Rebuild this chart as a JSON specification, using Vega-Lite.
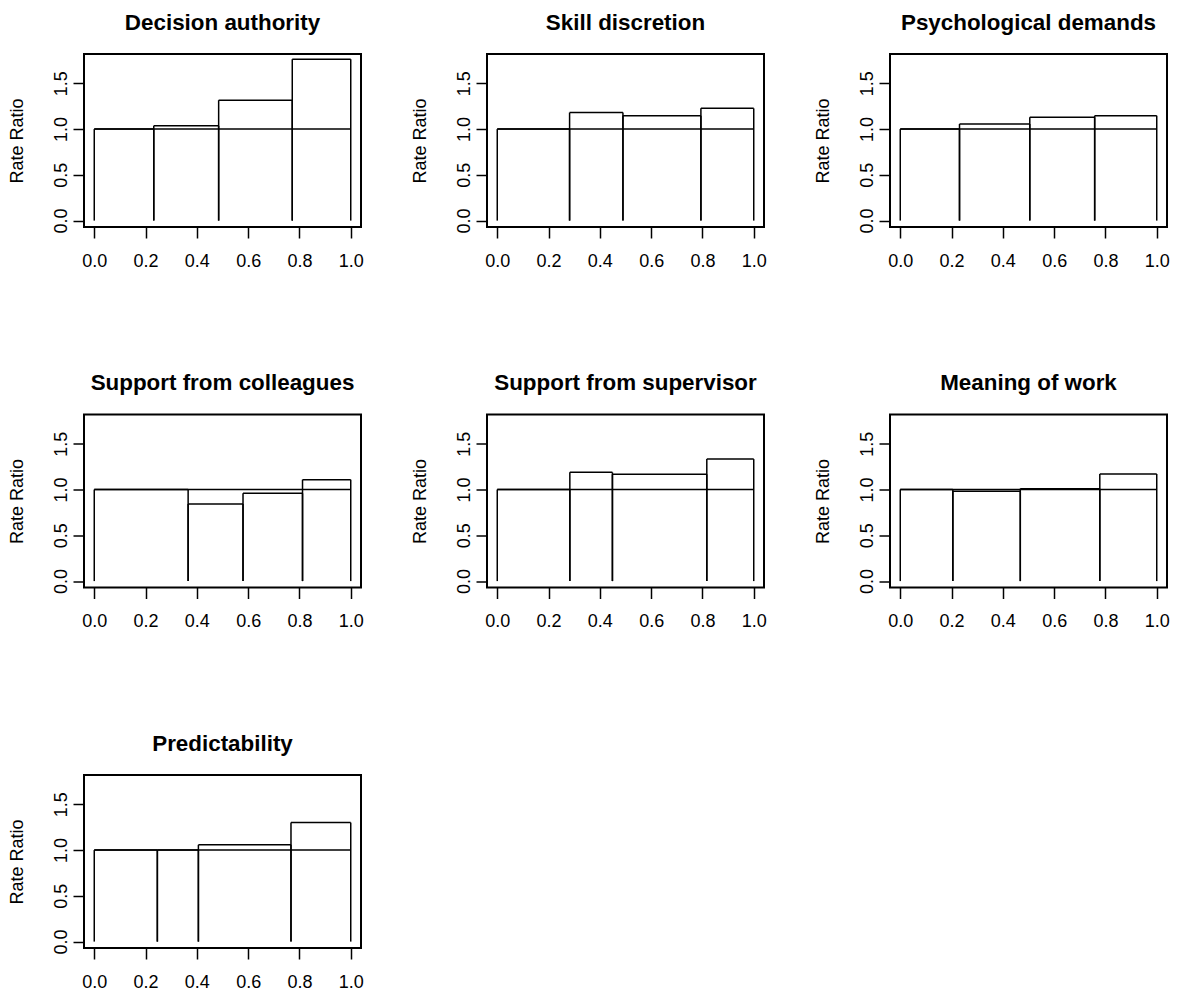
{
  "$schema": "https://vega.github.io/schema/vega-lite/v6.json",
  "padding": {"left": 7, "top": 10, "right": 0, "bottom": 0},
  "background": "white",
  "datasets": {
    "bars": [
      {"panel": "Decision authority", "x0": 0, "x1": 0.232, "rr": 1.0},
      {"panel": "Decision authority", "x0": 0.232, "x1": 0.485, "rr": 1.035},
      {"panel": "Decision authority", "x0": 0.485, "x1": 0.772, "rr": 1.315},
      {"panel": "Decision authority", "x0": 0.772, "x1": 1, "rr": 1.763},
      {"panel": "Skill discretion", "x0": 0, "x1": 0.282, "rr": 1.0},
      {"panel": "Skill discretion", "x0": 0.282, "x1": 0.49, "rr": 1.18},
      {"panel": "Skill discretion", "x0": 0.49, "x1": 0.794, "rr": 1.146},
      {"panel": "Skill discretion", "x0": 0.794, "x1": 1, "rr": 1.226},
      {"panel": "Psychological demands", "x0": 0, "x1": 0.231, "rr": 1.0},
      {"panel": "Psychological demands", "x0": 0.231, "x1": 0.505, "rr": 1.055},
      {"panel": "Psychological demands", "x0": 0.505, "x1": 0.758, "rr": 1.128},
      {"panel": "Psychological demands", "x0": 0.758, "x1": 1, "rr": 1.146},
      {"panel": "Support from colleagues", "x0": 0, "x1": 0.366, "rr": 1.0},
      {"panel": "Support from colleagues", "x0": 0.366, "x1": 0.58, "rr": 0.843},
      {"panel": "Support from colleagues", "x0": 0.58, "x1": 0.812, "rr": 0.959},
      {"panel": "Support from colleagues", "x0": 0.812, "x1": 1, "rr": 1.108},
      {"panel": "Support from supervisor", "x0": 0, "x1": 0.283, "rr": 1.0},
      {"panel": "Support from supervisor", "x0": 0.283, "x1": 0.449, "rr": 1.188},
      {"panel": "Support from supervisor", "x0": 0.449, "x1": 0.817, "rr": 1.166},
      {"panel": "Support from supervisor", "x0": 0.817, "x1": 1, "rr": 1.333},
      {"panel": "Meaning of work", "x0": 0, "x1": 0.205, "rr": 1.0},
      {"panel": "Meaning of work", "x0": 0.205, "x1": 0.468, "rr": 0.981},
      {"panel": "Meaning of work", "x0": 0.468, "x1": 0.778, "rr": 1.01},
      {"panel": "Meaning of work", "x0": 0.778, "x1": 1, "rr": 1.17},
      {"panel": "Predictability", "x0": 0, "x1": 0.246, "rr": 1.0},
      {"panel": "Predictability", "x0": 0.246, "x1": 0.406, "rr": 1.0},
      {"panel": "Predictability", "x0": 0.406, "x1": 0.767, "rr": 1.057},
      {"panel": "Predictability", "x0": 0.767, "x1": 1, "rr": 1.3}
    ]
  },
  "data": {"name": "bars"},
  "columns": 3,
  "spacing": {"row": 187.5, "column": 126},
  "bounds": "flush",
  "concat": [
    {
      "title": "Decision authority",
      "width": 277, "height": 173,
      "transform": [{"filter": {"field": "panel", "equal": "Decision authority"}}],
      "layer": [
        {"mark": {"type": "rule", "color": "black", "strokeWidth": 1.5},
         "encoding": {
           "x": {"field": "x0", "type": "quantitative", "scale": {"domain": [-0.04, 1.04], "nice": false, "zero": false}, "axis": {"title": null, "values": [0, 0.2, 0.4, 0.6, 0.8, 1.0], "format": ".1f"}},
           "x2": {"field": "x1"},
           "y": {"field": "rr", "type": "quantitative", "scale": {"domain": [-0.07, 1.82], "nice": false, "zero": false}, "axis": {"title": "Rate Ratio", "values": [0, 0.5, 1.0, 1.5], "format": ".1f"}}}},
        {"mark": {"type": "rule", "color": "black", "strokeWidth": 1.5},
         "encoding": {"x": {"field": "x0", "type": "quantitative"}, "y": {"field": "rr", "type": "quantitative"}, "y2": {"datum": 0}}},
        {"mark": {"type": "rule", "color": "black", "strokeWidth": 1.5},
         "encoding": {"x": {"field": "x1", "type": "quantitative"}, "y": {"field": "rr", "type": "quantitative"}, "y2": {"datum": 0}}},
        {"transform": [{"filter": "datum.x0 == 0"}],
         "mark": {"type": "rule", "color": "black", "strokeWidth": 1.5},
         "encoding": {"x": {"datum": 0, "type": "quantitative"}, "x2": {"datum": 1}, "y": {"datum": 1, "type": "quantitative"}}}
      ]
    },
    {
      "title": "Skill discretion",
      "width": 277, "height": 173,
      "transform": [{"filter": {"field": "panel", "equal": "Skill discretion"}}],
      "layer": [
        {"mark": {"type": "rule", "color": "black", "strokeWidth": 1.5},
         "encoding": {
           "x": {"field": "x0", "type": "quantitative", "scale": {"domain": [-0.04, 1.04], "nice": false, "zero": false}, "axis": {"title": null, "values": [0, 0.2, 0.4, 0.6, 0.8, 1.0], "format": ".1f"}},
           "x2": {"field": "x1"},
           "y": {"field": "rr", "type": "quantitative", "scale": {"domain": [-0.07, 1.82], "nice": false, "zero": false}, "axis": {"title": "Rate Ratio", "values": [0, 0.5, 1.0, 1.5], "format": ".1f"}}}},
        {"mark": {"type": "rule", "color": "black", "strokeWidth": 1.5},
         "encoding": {"x": {"field": "x0", "type": "quantitative"}, "y": {"field": "rr", "type": "quantitative"}, "y2": {"datum": 0}}},
        {"mark": {"type": "rule", "color": "black", "strokeWidth": 1.5},
         "encoding": {"x": {"field": "x1", "type": "quantitative"}, "y": {"field": "rr", "type": "quantitative"}, "y2": {"datum": 0}}},
        {"transform": [{"filter": "datum.x0 == 0"}],
         "mark": {"type": "rule", "color": "black", "strokeWidth": 1.5},
         "encoding": {"x": {"datum": 0, "type": "quantitative"}, "x2": {"datum": 1}, "y": {"datum": 1, "type": "quantitative"}}}
      ]
    },
    {
      "title": "Psychological demands",
      "width": 277, "height": 173,
      "transform": [{"filter": {"field": "panel", "equal": "Psychological demands"}}],
      "layer": [
        {"mark": {"type": "rule", "color": "black", "strokeWidth": 1.5},
         "encoding": {
           "x": {"field": "x0", "type": "quantitative", "scale": {"domain": [-0.04, 1.04], "nice": false, "zero": false}, "axis": {"title": null, "values": [0, 0.2, 0.4, 0.6, 0.8, 1.0], "format": ".1f"}},
           "x2": {"field": "x1"},
           "y": {"field": "rr", "type": "quantitative", "scale": {"domain": [-0.07, 1.82], "nice": false, "zero": false}, "axis": {"title": "Rate Ratio", "values": [0, 0.5, 1.0, 1.5], "format": ".1f"}}}},
        {"mark": {"type": "rule", "color": "black", "strokeWidth": 1.5},
         "encoding": {"x": {"field": "x0", "type": "quantitative"}, "y": {"field": "rr", "type": "quantitative"}, "y2": {"datum": 0}}},
        {"mark": {"type": "rule", "color": "black", "strokeWidth": 1.5},
         "encoding": {"x": {"field": "x1", "type": "quantitative"}, "y": {"field": "rr", "type": "quantitative"}, "y2": {"datum": 0}}},
        {"transform": [{"filter": "datum.x0 == 0"}],
         "mark": {"type": "rule", "color": "black", "strokeWidth": 1.5},
         "encoding": {"x": {"datum": 0, "type": "quantitative"}, "x2": {"datum": 1}, "y": {"datum": 1, "type": "quantitative"}}}
      ]
    },
    {
      "title": "Support from colleagues",
      "width": 277, "height": 173,
      "transform": [{"filter": {"field": "panel", "equal": "Support from colleagues"}}],
      "layer": [
        {"mark": {"type": "rule", "color": "black", "strokeWidth": 1.5},
         "encoding": {
           "x": {"field": "x0", "type": "quantitative", "scale": {"domain": [-0.04, 1.04], "nice": false, "zero": false}, "axis": {"title": null, "values": [0, 0.2, 0.4, 0.6, 0.8, 1.0], "format": ".1f"}},
           "x2": {"field": "x1"},
           "y": {"field": "rr", "type": "quantitative", "scale": {"domain": [-0.07, 1.82], "nice": false, "zero": false}, "axis": {"title": "Rate Ratio", "values": [0, 0.5, 1.0, 1.5], "format": ".1f"}}}},
        {"mark": {"type": "rule", "color": "black", "strokeWidth": 1.5},
         "encoding": {"x": {"field": "x0", "type": "quantitative"}, "y": {"field": "rr", "type": "quantitative"}, "y2": {"datum": 0}}},
        {"mark": {"type": "rule", "color": "black", "strokeWidth": 1.5},
         "encoding": {"x": {"field": "x1", "type": "quantitative"}, "y": {"field": "rr", "type": "quantitative"}, "y2": {"datum": 0}}},
        {"transform": [{"filter": "datum.x0 == 0"}],
         "mark": {"type": "rule", "color": "black", "strokeWidth": 1.5},
         "encoding": {"x": {"datum": 0, "type": "quantitative"}, "x2": {"datum": 1}, "y": {"datum": 1, "type": "quantitative"}}}
      ]
    },
    {
      "title": "Support from supervisor",
      "width": 277, "height": 173,
      "transform": [{"filter": {"field": "panel", "equal": "Support from supervisor"}}],
      "layer": [
        {"mark": {"type": "rule", "color": "black", "strokeWidth": 1.5},
         "encoding": {
           "x": {"field": "x0", "type": "quantitative", "scale": {"domain": [-0.04, 1.04], "nice": false, "zero": false}, "axis": {"title": null, "values": [0, 0.2, 0.4, 0.6, 0.8, 1.0], "format": ".1f"}},
           "x2": {"field": "x1"},
           "y": {"field": "rr", "type": "quantitative", "scale": {"domain": [-0.07, 1.82], "nice": false, "zero": false}, "axis": {"title": "Rate Ratio", "values": [0, 0.5, 1.0, 1.5], "format": ".1f"}}}},
        {"mark": {"type": "rule", "color": "black", "strokeWidth": 1.5},
         "encoding": {"x": {"field": "x0", "type": "quantitative"}, "y": {"field": "rr", "type": "quantitative"}, "y2": {"datum": 0}}},
        {"mark": {"type": "rule", "color": "black", "strokeWidth": 1.5},
         "encoding": {"x": {"field": "x1", "type": "quantitative"}, "y": {"field": "rr", "type": "quantitative"}, "y2": {"datum": 0}}},
        {"transform": [{"filter": "datum.x0 == 0"}],
         "mark": {"type": "rule", "color": "black", "strokeWidth": 1.5},
         "encoding": {"x": {"datum": 0, "type": "quantitative"}, "x2": {"datum": 1}, "y": {"datum": 1, "type": "quantitative"}}}
      ]
    },
    {
      "title": "Meaning of work",
      "width": 277, "height": 173,
      "transform": [{"filter": {"field": "panel", "equal": "Meaning of work"}}],
      "layer": [
        {"mark": {"type": "rule", "color": "black", "strokeWidth": 1.5},
         "encoding": {
           "x": {"field": "x0", "type": "quantitative", "scale": {"domain": [-0.04, 1.04], "nice": false, "zero": false}, "axis": {"title": null, "values": [0, 0.2, 0.4, 0.6, 0.8, 1.0], "format": ".1f"}},
           "x2": {"field": "x1"},
           "y": {"field": "rr", "type": "quantitative", "scale": {"domain": [-0.07, 1.82], "nice": false, "zero": false}, "axis": {"title": "Rate Ratio", "values": [0, 0.5, 1.0, 1.5], "format": ".1f"}}}},
        {"mark": {"type": "rule", "color": "black", "strokeWidth": 1.5},
         "encoding": {"x": {"field": "x0", "type": "quantitative"}, "y": {"field": "rr", "type": "quantitative"}, "y2": {"datum": 0}}},
        {"mark": {"type": "rule", "color": "black", "strokeWidth": 1.5},
         "encoding": {"x": {"field": "x1", "type": "quantitative"}, "y": {"field": "rr", "type": "quantitative"}, "y2": {"datum": 0}}},
        {"transform": [{"filter": "datum.x0 == 0"}],
         "mark": {"type": "rule", "color": "black", "strokeWidth": 1.5},
         "encoding": {"x": {"datum": 0, "type": "quantitative"}, "x2": {"datum": 1}, "y": {"datum": 1, "type": "quantitative"}}}
      ]
    },
    {
      "title": "Predictability",
      "width": 277, "height": 173,
      "transform": [{"filter": {"field": "panel", "equal": "Predictability"}}],
      "layer": [
        {"mark": {"type": "rule", "color": "black", "strokeWidth": 1.5},
         "encoding": {
           "x": {"field": "x0", "type": "quantitative", "scale": {"domain": [-0.04, 1.04], "nice": false, "zero": false}, "axis": {"title": null, "values": [0, 0.2, 0.4, 0.6, 0.8, 1.0], "format": ".1f"}},
           "x2": {"field": "x1"},
           "y": {"field": "rr", "type": "quantitative", "scale": {"domain": [-0.07, 1.82], "nice": false, "zero": false}, "axis": {"title": "Rate Ratio", "values": [0, 0.5, 1.0, 1.5], "format": ".1f"}}}},
        {"mark": {"type": "rule", "color": "black", "strokeWidth": 1.5},
         "encoding": {"x": {"field": "x0", "type": "quantitative"}, "y": {"field": "rr", "type": "quantitative"}, "y2": {"datum": 0}}},
        {"mark": {"type": "rule", "color": "black", "strokeWidth": 1.5},
         "encoding": {"x": {"field": "x1", "type": "quantitative"}, "y": {"field": "rr", "type": "quantitative"}, "y2": {"datum": 0}}},
        {"transform": [{"filter": "datum.x0 == 0"}],
         "mark": {"type": "rule", "color": "black", "strokeWidth": 1.5},
         "encoding": {"x": {"datum": 0, "type": "quantitative"}, "x2": {"datum": 1}, "y": {"datum": 1, "type": "quantitative"}}}
      ]
    }
  ],
  "config": {
    "font": "Liberation Sans",
    "view": {"stroke": "black", "strokeWidth": 2, "fill": null},
    "axis": {
      "domain": false, "grid": false,
      "ticks": true, "tickColor": "black", "tickSize": 11, "tickWidth": 1.5,
      "labelFont": "Liberation Sans", "labelFontSize": 18, "labelColor": "black",
      "labelFlush": false, "labelOverlap": false,
      "titleFont": "Liberation Sans", "titleFontSize": 18, "titleFontWeight": "normal", "titleColor": "black"
    },
    "axisX": {"labelPadding": 14, "labelBaseline": "top", "labelAngle": 0},
    "axisY": {"labelAngle": -90, "labelAlign": "center", "labelBaseline": "alphabetic", "labelPadding": 7,
              "titleAngle": -90, "titleAlign": "center", "titleBaseline": "alphabetic", "titleX": -62, "titleY": 86.5},
    "title": {"font": "Liberation Sans", "fontSize": 22.4, "fontWeight": "bold", "color": "black", "anchor": "middle", "frame": "group", "baseline": "alphabetic", "offset": 20}
  }
}
